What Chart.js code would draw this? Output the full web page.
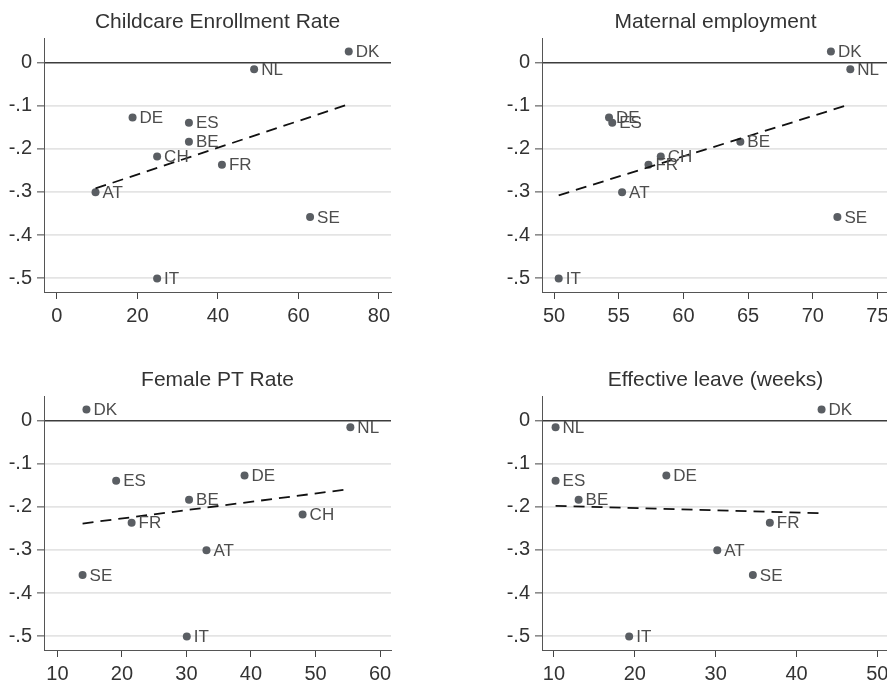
<!DOCTYPE html>
<html>
<head>
<meta charset="utf-8">
<script src="https://cdn.jsdelivr.net/npm/chart.js@4/dist/chart.umd.min.js"></script>
<style>
  html, body { margin: 0; padding: 0; background: #ffffff; overflow: hidden; width: 887px; height: 682px; }
  canvas { position: absolute; }
</style>
</head>
<body>
<canvas id="c1" width="400" height="330" style="left:0px;top:0px"></canvas>
<canvas id="c2" width="400" height="330" style="left:498px;top:0px"></canvas>
<canvas id="c3" width="400" height="330" style="left:0px;top:358px"></canvas>
<canvas id="c4" width="400" height="330" style="left:498px;top:358px"></canvas>
<script>
// Country codes and the outcome shared by all four panels
const countries = ['DK', 'NL', 'DE', 'ES', 'BE', 'CH', 'FR', 'AT', 'SE', 'IT'];
const outcome   = [0.025, -0.016, -0.128, -0.140, -0.184, -0.218, -0.237, -0.301, -0.358, -0.501];

// Explanatory variables (same country order; null = not available)
const childcareRate   = [72.5, 49.0, 18.8, 32.8, 32.8, 24.9, 41.0, 9.6, 62.9, 24.9];
const maternalEmploy  = [71.4, 72.9, 54.25, 54.5, 64.4, 58.25, 57.3, 55.26, 71.9, 50.36];
const femalePTRate    = [14.5, 55.4, 39.0, 19.1, 30.4, 48.0, 21.5, 33.1, 13.9, 30.05];
const effectiveLeave  = [43.1, 10.2, 23.9, 10.2, 13.05, null, 36.7, 30.2, 34.6, 19.3];

// Fitted-line end points for each panel
const fitChildcareX = [9.6, 72.5],   fitChildcareY = [-0.292, -0.097];
const fitMaternalX  = [50.36, 72.9], fitMaternalY  = [-0.308, -0.097];
const fitPTX        = [13.9, 55.4],  fitPTY        = [-0.239, -0.159];
const fitLeaveX     = [10.2, 43.1],  fitLeaveY     = [-0.198, -0.215];

// Axis ranges and tick steps
const yRange = [-0.532, 0.056];
const xRangeChildcare = [-3.2, 83.0],  xStepChildcare = 20;
const xRangeMaternal  = [49.07, 75.89], xStepMaternal = 5;
const xRangePT        = [7.92, 61.7],  xStepPT = 10;
const xRangeLeave     = [8.52, 51.44], xStepLeave = 10;

const FONT = "'Liberation Sans', Arial, Helvetica, sans-serif";
const INK = '#333333';

function stataNum(v) {
  const r = Math.round(v * 10) / 10;
  if (r === 0) return '0';
  return (r < 0 ? '-' : '') + String(Math.abs(r)).replace(/^0/, '');
}

// Draws the country code to the right of each marker
const markerLabels = {
  id: 'markerLabels',
  afterDatasetsDraw(chart) {
    const ds = chart.data.datasets[1];
    const meta = chart.getDatasetMeta(1);
    const ctx = chart.ctx;
    ctx.save();
    ctx.font = '17px ' + FONT;
    ctx.fillStyle = '#4d4d4d';
    ctx.textAlign = 'left';
    ctx.textBaseline = 'middle';
    meta.data.forEach((el, i) => {
      ctx.fillText(ds.data[i].label, el.x + 7, el.y + 1);
    });
    ctx.restore();
  }
};

function makePanel(id, title, xs, fitX, fitY, xRange, xStep) {
  const pts = [];
  xs.forEach((x, i) => {
    if (x !== null) pts.push({ x: x, y: outcome[i], label: countries[i] });
  });
  const fit = fitX.map((x, i) => ({ x: x, y: fitY[i] }));

  new Chart(document.getElementById(id), {
    type: 'scatter',
    data: {
      datasets: [
        {
          data: fit,
          showLine: true,
          borderColor: '#111111',
          borderWidth: 1.8,
          borderDash: [11, 7],
          pointRadius: 0,
          fill: false,
          order: 0
        },
        {
          data: pts,
          pointRadius: 4,
          pointBackgroundColor: '#5a5e63',
          pointBorderColor: '#5a5e63',
          pointBorderWidth: 0,
          order: 1
        }
      ]
    },
    options: {
      responsive: false,
      animation: false,
      devicePixelRatio: 1,
      layout: { padding: { left: 0, right: 9, top: 0, bottom: 0 } },
      plugins: {
        legend: { display: false },
        tooltip: { enabled: false },
        title: {
          display: true,
          text: title,
          fullSize: false,
          color: INK,
          font: { family: FONT, size: 21, weight: 'normal' },
          padding: { top: 10, bottom: 3 }
        }
      },
      scales: {
        x: {
          type: 'linear',
          min: xRange[0],
          max: xRange[1],
          afterFit: (s) => { s.height = 38; },
          border: { display: true, color: '#555555', width: 1 },
          grid: { drawOnChartArea: false, drawTicks: true, tickLength: 7, tickColor: '#444444', tickWidth: 1 },
          ticks: {
            stepSize: xStep,
            includeBounds: false,
            color: INK,
            padding: 5,
            maxRotation: 0,
            font: { family: FONT, size: 20 }
          }
        },
        y: {
          type: 'linear',
          min: yRange[0],
          max: yRange[1],
          afterFit: (s) => { s.width = 44; },
          border: { display: true, color: '#555555', width: 1 },
          grid: {
            drawOnChartArea: true,
            drawTicks: true,
            tickLength: 7,
            tickColor: '#444444',
            tickWidth: 1,
            color: (c) => (c.tick && Math.abs(c.tick.value) < 1e-9) ? '#3c3c3c' : '#e4e4e4',
            lineWidth: (c) => (c.tick && Math.abs(c.tick.value) < 1e-9) ? 1.6 : 1.8
          },
          ticks: {
            stepSize: 0.1,
            includeBounds: false,
            color: INK,
            padding: 5,
            font: { family: FONT, size: 20 },
            callback: (v) => stataNum(v)
          }
        }
      }
    },
    plugins: [markerLabels]
  });
}

makePanel('c1', 'Childcare Enrollment Rate', childcareRate, fitChildcareX, fitChildcareY, xRangeChildcare, xStepChildcare);
makePanel('c2', 'Maternal employment', maternalEmploy, fitMaternalX, fitMaternalY, xRangeMaternal, xStepMaternal);
makePanel('c3', 'Female PT Rate', femalePTRate, fitPTX, fitPTY, xRangePT, xStepPT);
makePanel('c4', 'Effective leave (weeks)', effectiveLeave, fitLeaveX, fitLeaveY, xRangeLeave, xStepLeave);
</script>
</body>
</html>
